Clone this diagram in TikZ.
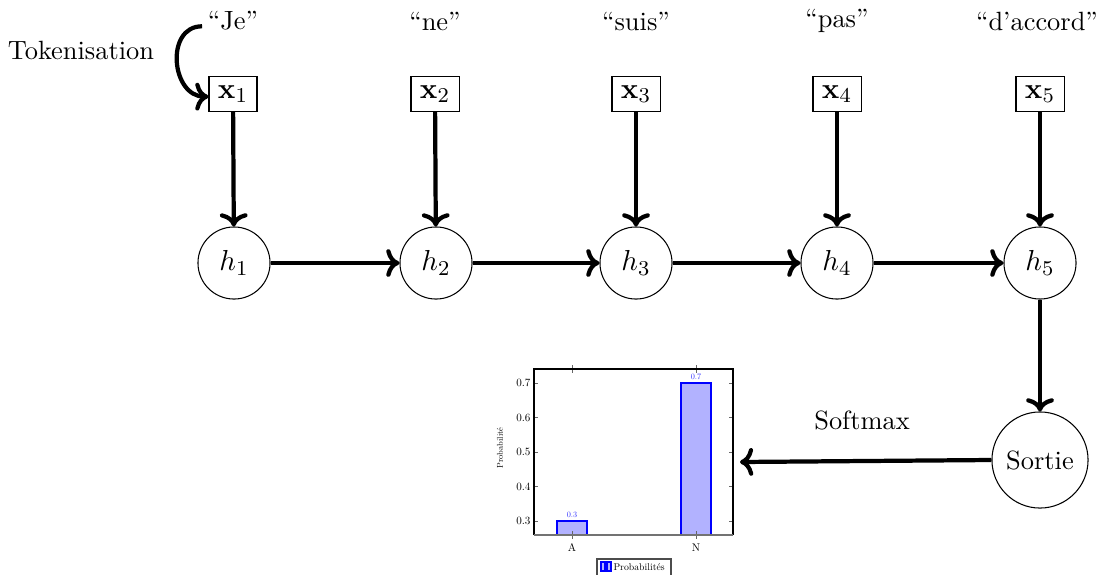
\documentclass[tikz,border=0pt]{standalone}
\usepackage{amsmath}
\usetikzlibrary{arrows.meta}
\begin{document}
\begin{tikzpicture}[x=0.3788pt,y=-0.3788pt,
  wordnode/.style={inner sep=0pt},
  tokbox/.style={draw,line width=0.4pt,minimum width=18.2pt,minimum height=13.4pt,inner sep=1pt,font=\fontsize{11.2}{13}\selectfont},
  hcirc/.style={draw,circle,line width=0.4pt,minimum size=27.3pt,inner sep=0pt,font=\fontsize{11}{13}\selectfont},
  outcirc/.style={draw,circle,line width=0.4pt,minimum size=36.4pt,inner sep=0pt},
  arr/.style={-{Computer Modern Rightarrow[width=10.5pt,length=5pt]},line width=1.6pt},
  ticklab/.style={inner sep=0pt},
  barlab/.style={inner sep=0pt,text=blue!85},
  barstyle/.style={draw=blue,fill=blue!30,line width=0.5pt},
  tickmark/.style={draw=black!60,line width=0.3pt}]
\useasboundingbox (0,0) rectangle (1097,574);

% words
\node[wordnode] (w1) at (233,21) {``Je''};
\node[wordnode] (w2) at (435,21) {``ne''};
\node[wordnode] (w3) at (636,21) {``suis''};
\node[wordnode] (w4) at (837,21) {``pas''};
\node[wordnode] (w5) at (1037,21) {``d'accord''};
\node[wordnode] (tok) at (81,50) {Tokenisation};

% token boxes
\node[tokbox] (x1) at (233,94) {$\mathbf{x}_1$};
\node[tokbox] (x2) at (435,94) {$\mathbf{x}_2$};
\node[tokbox] (x3) at (636,94) {$\mathbf{x}_3$};
\node[tokbox] (x4) at (837,94) {$\mathbf{x}_4$};
\node[tokbox] (x5) at (1040,94) {$\mathbf{x}_5$};

% hidden states
\node[hcirc] (h1) at (234,263) {$h_1$};
\node[hcirc] (h2) at (436,263) {$h_2$};
\node[hcirc] (h3) at (636,263) {$h_3$};
\node[hcirc] (h4) at (837,263) {$h_4$};
\node[hcirc] (h5) at (1040,263) {$h_5$};

\node[outcirc] (out) at (1040,460) {Sortie};
\node[wordnode] (soft) at (862,420) {Softmax};

% connectors
\draw[arr] ([xshift=-2pt,yshift=-2pt]w1.west) to[out=180,in=180,looseness=1.35] ([yshift=-1pt]x1.west);
\foreach \i in {1,...,5} {\draw[arr] (x\i) -- (h\i);}
\draw[arr] (h1) -- (h2);
\draw[arr] (h2) -- (h3);
\draw[arr] (h3) -- (h4);
\draw[arr] (h4) -- (h5);
\draw[arr] (h5) -- (out);
\coordinate (chartin) at (740,462);
\draw[arr] (out.west) -- (chartin);

% chart
% y(v) = 521 - (v-0.3)*345
\draw[barstyle] (557,535) rectangle (587,521);
\draw[barstyle] (681,535) rectangle (711,383);
\node[barlab] (l03) at (572,515) {\scalebox{0.31}{0.3}};
\node[barlab] (l07) at (696,377) {\scalebox{0.31}{0.7}};
\foreach \v/\t in {0.3/0.3,0.4/0.4,0.5/0.5,0.6/0.6,0.7/0.7} {
  \pgfmathsetmacro{\yy}{521-(\v-0.3)*345}
  \draw[tickmark] (534,\yy) -- (538,\yy);
  \draw[tickmark] (733,\yy) -- (729,\yy);
  \node[ticklab,anchor=east] at (531,\yy) {\scalebox{0.42}{\t}};
}
\foreach \xx in {572,696} {
  \draw[tickmark] (\xx,365) -- (\xx,373);
  \draw[tickmark] (\xx,531) -- (\xx,539);
}
\draw[line width=0.5pt] (534,535) -- (534,369) -- (733,369) -- (733,535);
\draw[black!55,line width=0.9pt] (534,535) -- (733,535);
\node[ticklab] at (572,548) {\scalebox{0.42}{A}};
\node[ticklab] at (696,548) {\scalebox{0.42}{N}};
\node[inner sep=0pt,rotate=90] (ylab) at (500,448) {\scalebox{0.32}{Probabilité}};
% legend
\draw[black!70,line width=0.4pt] (597,578) -- (597,559) -- (671,559) -- (671,578);
\draw[barstyle,line width=0.4pt] (601,571) rectangle (605,562);
\draw[barstyle,line width=0.4pt] (607,571) rectangle (611,562);
\node[inner sep=0pt,anchor=west] (leg) at (613,567) {\scalebox{0.37}{Probabilités}};
\end{tikzpicture}
\end{document}
